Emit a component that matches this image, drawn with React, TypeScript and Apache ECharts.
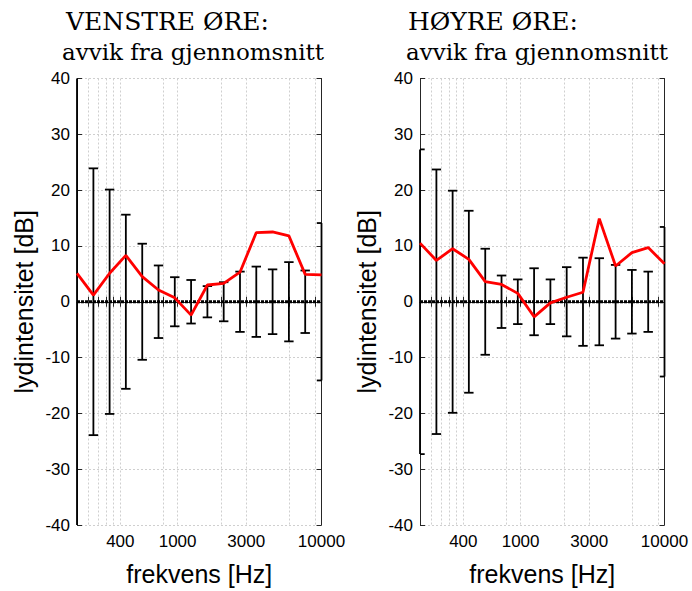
import { useEffect, useRef } from "react";
import * as echarts from "echarts";

// Frequencies (Hz) of the measurement points (evenly spaced on a log axis)
const freqsHz = [200, 260, 337, 437, 568, 737, 956, 1241, 1611, 2091, 2714, 3523, 4573, 5936, 7704, 10000];

// Left ear: deviation from mean (dB) and spread (± dB)
const leftDeviation = [5.1, 1.2, 5.1, 8.3, 4.5, 2.1, 0.7, -2.4, 3.0, 3.3, 5.3, 12.4, 12.5, 11.8, 4.9, 4.8];
const leftSpread = [45, 23.9, 20.1, 15.6, 10.4, 6.5, 4.4, 3.9, 2.8, 3.5, 5.4, 6.3, 5.8, 7.1, 5.6, 14.1];

// Right ear
const rightDeviation = [10.5, 7.4, 9.5, 7.6, 3.6, 3.1, 1.5, -2.7, -0.2, 0.8, 1.7, 14.9, 6.4, 8.8, 9.7, 6.8];
const rightSpread = [27.3, 23.7, 19.9, 16.3, 9.5, 4.7, 4.0, 6.0, 4.0, 6.2, 7.9, 7.8, 6.6, 5.7, 5.4, 13.4];

// Axis ticks
const gridTickHz = [240, 280, 320, 360, 400, 800, 1000, 2000, 3000, 6000, 9000];
const labelTickHz = [400, 1000, 3000, 10000];
const xMinHz = 200;
const xMaxHz = 10000;
const yMin = -40;
const yMax = 40;
const yStep = 10;

const titleLine1 = ["VENSTRE ØRE:", "HØYRE ØRE:"];
const titleLine2 = ["avvik fra gjennomsnitt", "avvik fra gjennomsnitt"];
const xName = "frekvens [Hz]";
const yName = "lydintensitet [dB]";

const lg = (v: number) => Math.log10(v);

const AXIS_COLOR = "#262626";
const SANS = "Liberation Sans";
const SERIF = "DejaVu Serif";

function errorBarItem(params: any, api: any) {
  const x = api.value(0);
  const h = api.value(1);
  const top = api.coord([x, h]);
  const bot = api.coord([x, -h]);
  const cs = params.coordSys;
  const x0 = cs.x;
  const x1 = cs.x + cs.width;
  const y0 = cs.y;
  const y1 = cs.y + cs.height;
  const px = top[0];
  const style = { stroke: "#000", lineWidth: 1.8 };
  const children: any[] = [
    {
      type: "line",
      shape: { x1: px, y1: Math.max(top[1], y0), x2: px, y2: Math.min(bot[1], y1) },
      style,
    },
  ];
  const half = 4.7;
  const cx1 = Math.max(px - half, x0);
  const cx2 = Math.min(px + half, x1);
  if (top[1] >= y0 - 0.5) {
    children.push({ type: "line", shape: { x1: cx1, y1: top[1], x2: cx2, y2: top[1] }, style });
  }
  if (bot[1] <= y1 + 0.5) {
    children.push({ type: "line", shape: { x1: cx1, y1: bot[1], x2: cx2, y2: bot[1] }, style });
  }
  return { type: "group", children };
}

export default function App() {
  const ref = useRef<HTMLDivElement>(null);

  useEffect(() => {
    if (!ref.current) return;
    const chart = echarts.init(ref.current, null, { renderer: "svg" });

    const gridDefs = [
      { left: 77, top: 78.5, width: 244.5, height: 449 },
      { left: 420, top: 78.5, width: 244.5, height: 449 },
    ];

    const xAxes: any[] = [];
    const yAxes: any[] = [];
    gridDefs.forEach((_, gi) => {
      const common = {
        type: "value",
        gridIndex: gi,
        min: lg(xMinHz),
        max: lg(xMaxHz),
        axisLine: { show: true, lineStyle: { color: AXIS_COLOR, width: 1 } },
        axisTick: {
          show: true,
          inside: true,
          length: 5,
          customValues: gridTickHz.map(lg),
          lineStyle: { color: AXIS_COLOR, width: 1 },
        },
      };
      xAxes.push({
        ...common,
        position: "bottom",
        name: xName,
        nameLocation: "middle",
        nameGap: 36,
        nameTextStyle: { fontFamily: SANS, fontSize: 25, color: "#000" },
        axisLabel: {
          show: true,
          customValues: labelTickHz.map(lg),
          formatter: (v: number) => String(Math.round(Math.pow(10, v))),
          fontFamily: SANS,
          fontSize: 17,
          color: "#000",
          margin: 8,
          hideOverlap: false,
        },
        splitLine: {
          show: true,
          lineStyle: { color: "#cfcfcf", type: [2, 2], width: 1 },
        },
      });
      xAxes.push({
        ...common,
        position: "top",
        axisLabel: { show: false },
        splitLine: { show: false },
      });
      const yCommon = {
        type: "value",
        gridIndex: gi,
        min: yMin,
        max: yMax,
        interval: yStep,
        axisLine: { show: true, lineStyle: { color: AXIS_COLOR, width: 1 } },
        axisTick: { show: true, inside: true, length: 5, lineStyle: { color: AXIS_COLOR, width: 1 } },
      };
      yAxes.push({
        ...yCommon,
        position: "left",
        name: yName,
        nameLocation: "middle",
        nameRotate: 90,
        nameGap: 41,
        nameTextStyle: { fontFamily: SANS, fontSize: 25, color: "#000" },
        axisLabel: { show: true, fontFamily: SANS, fontSize: 17, color: "#000", margin: 7 },
        splitLine: { show: true, lineStyle: { color: "#cfcfcf", type: [2, 2], width: 1 } },
      });
      yAxes.push({
        ...yCommon,
        position: "right",
        axisLabel: { show: false },
        splitLine: { show: false },
      });
    });

    const panels = [
      { dev: leftDeviation, spread: leftSpread },
      { dev: rightDeviation, spread: rightSpread },
    ];

    const series: any[] = [];
    panels.forEach((p, gi) => {
      const xi = gi * 2;
      const yi = gi * 2;
      series.push({
        type: "custom",
        xAxisIndex: xi,
        yAxisIndex: yi,
        renderItem: errorBarItem,
        data: freqsHz.map((f, i) => [lg(f), p.spread[i]]),
        encode: { x: 0, y: 1 },
        z: 2,
        silent: true,
      });
      series.push({
        type: "line",
        xAxisIndex: xi,
        yAxisIndex: yi,
        data: [
          [lg(xMinHz), 0],
          [lg(xMaxHz), 0],
        ],
        showSymbol: false,
        symbol: "none",
        lineStyle: { color: "#000", width: 3, type: [3, 1] },
        z: 3,
        silent: true,
      });
      series.push({
        type: "line",
        xAxisIndex: xi,
        yAxisIndex: yi,
        data: freqsHz.map((f, i) => [lg(f), p.dev[i]]),
        showSymbol: false,
        symbol: "none",
        lineStyle: { color: "#ff0000", width: 2.8 },
        z: 4,
        silent: true,
      });
    });

    const titleX1 = [66, 408];
    const titleX2 = [62, 406];
    const graphic: any[] = [];
    for (let i = 0; i < 2; i++) {
      graphic.push({
        type: "text",
        x: titleX1[i],
        y: 21,
        style: {
          text: titleLine1[i],
          font: `25px "${SERIF}"`,
          fill: "#000",
          verticalAlign: "middle",
          align: "left",
        },
      });
      graphic.push({
        type: "text",
        x: titleX2[i],
        y: 52,
        style: {
          text: titleLine2[i],
          font: `23px "${SERIF}"`,
          fill: "#000",
          verticalAlign: "middle",
          align: "left",
        },
      });
    }

    chart.setOption({
      animation: false,
      backgroundColor: "#ffffff",
      graphic,
      grid: gridDefs.map((g) => ({ ...g, containLabel: false })),
      xAxis: xAxes,
      yAxis: yAxes,
      series,
    });

    return () => chart.dispose();
  }, []);

  return (
    <div
      ref={ref}
      style={{ position: "absolute", left: 0, top: 0, width: 692, height: 591, background: "#fff" }}
    />
  );
}
